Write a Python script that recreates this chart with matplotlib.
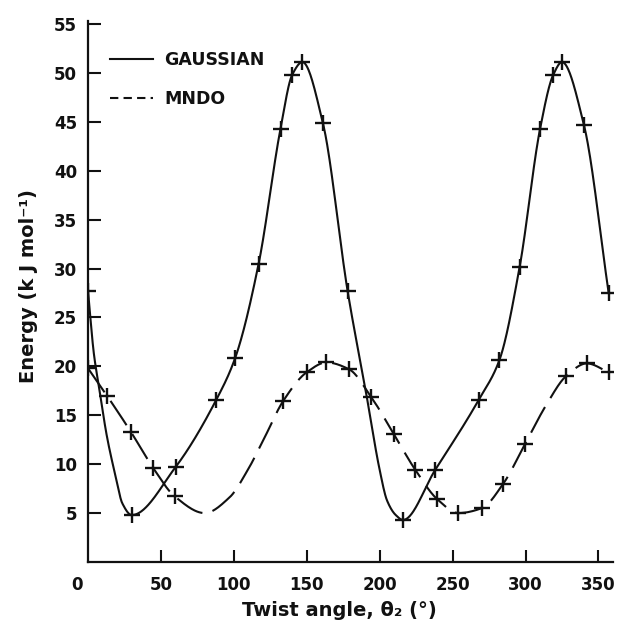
import numpy as np
import matplotlib
matplotlib.use("Agg")
import matplotlib.pyplot as plt
from matplotlib.lines import Line2D
from matplotlib.transforms import ScaledTranslation

INK = "#111111"

# Gaussian: computed points (marked "+") and a few unmarked points
gauss_x = [0, 30, 60, 88, 101, 117, 132, 140, 147, 161, 178,
           216, 238, 268, 282, 296, 310, 319, 325, 340, 357]
gauss_e = [27.7, 4.8, 9.7, 16.6, 20.9, 30.5, 44.3, 49.8, 51.1, 44.9, 27.7,
           4.3, 9.4, 16.6, 20.6, 30.2, 44.3, 49.8, 51.1, 44.7, 27.5]
gauss_curve_x = [4, 7.5, 13, 19, 23.5, 191, 200, 205, 211]
gauss_curve_e = [21.3, 17.9, 12.8, 8.7, 6.0, 17.0, 9.4, 6.3, 4.8]

# MNDO
mndo_x = [0, 13, 29.4, 44.7, 59.5, 134, 150, 163.5, 179, 194, 209.6,
          224.5, 239.6, 254, 270, 284.7, 299.8, 327.8, 342, 357]
mndo_e = [19.8, 17.0, 13.3, 9.6, 6.7, 16.5, 19.4, 20.4, 19.7, 16.9, 13.1,
          9.4, 6.4, 5.0, 5.5, 8.0, 12.1, 19.0, 20.3, 19.4]
mndo_curve_x = [80, 97, 109.5, 120, 314]
mndo_curve_e = [5.0, 6.6, 9.4, 12.4, 16.0]

x_ticks = [0, 50, 100, 150, 200, 250, 300, 350]
y_ticks = [5, 10, 15, 20, 25, 30, 35, 40, 45, 50, 55]


def pchip(x, y, xs):
    # monotone piecewise cubic (Fritsch-Carlson), enough for a hand-drawn look
    x = np.asarray(x, float)
    y = np.asarray(y, float)
    h = np.diff(x)
    d = np.diff(y) / h
    m = np.zeros_like(y)
    for k in range(1, len(x) - 1):
        if d[k - 1] * d[k] > 0:
            w1 = 2 * h[k] + h[k - 1]
            w2 = h[k] + 2 * h[k - 1]
            m[k] = (w1 + w2) / (w1 / d[k - 1] + w2 / d[k])
    m[0], m[-1] = d[0], d[-1]
    i = np.clip(np.searchsorted(x, xs) - 1, 0, len(h) - 1)
    t = (xs - x[i]) / h[i]
    return ((2 * t**3 - 3 * t**2 + 1) * y[i] + (t**3 - 2 * t**2 + t) * h[i] * m[i]
            + (-2 * t**3 + 3 * t**2) * y[i + 1] + (t**3 - t**2) * h[i] * m[i + 1])


def merged(xa, ya, xb, yb):
    pts = sorted(zip(list(xa) + list(xb), list(ya) + list(yb)))
    return [p[0] for p in pts], [p[1] for p in pts]


plt.rcParams.update({
    "font.family": ["DejaVu Sans"],
    "font.weight": "bold",
    "font.size": 12,
    "text.color": INK,
})

fig = plt.figure(figsize=(6.23, 6.25), dpi=100)
ax = fig.add_axes([0.1413, 0.1008, 0.8427, 0.8656])

gx, ge = merged(gauss_x, gauss_e, gauss_curve_x, gauss_curve_e)
xs = np.linspace(gx[0], gx[-1], 900)
ax.plot(xs, pchip(gx, ge, xs), color=INK, lw=1.5, solid_capstyle="round")
ax.plot(gauss_x, gauss_e, ls="none", marker="+", ms=11, mew=1.7, color=INK)

mx, me = merged(mndo_x, mndo_e, mndo_curve_x, mndo_curve_e)
xs = np.linspace(mx[0], mx[-1], 900)
ax.plot(xs, pchip(mx, me, xs), color=INK, lw=1.5, linestyle=(0, (14, 5)))
ax.plot(mndo_x, mndo_e, ls="none", marker="+", ms=11, mew=1.7, color=INK)

ax.set_xlim(0, 360)
ax.set_ylim(0, 55.3)
ax.set_xticks(x_ticks)
ax.set_yticks(y_ticks)
ax.tick_params(direction="in", length=9, width=1.5, colors=INK, labelsize=12)
ax.tick_params(axis="x", pad=10)
ax.tick_params(axis="y", pad=8)
for lab in ax.get_xticklabels() + ax.get_yticklabels():
    lab.set_fontweight("bold")
# "0" sits left of the spine in the original
first = ax.get_xticklabels()[0]
first.set_transform(first.get_transform() + ScaledTranslation(-0.11, 0, fig.dpi_scale_trans))
ax.xaxis.get_major_ticks()[0].tick1line.set_visible(False)

for s in ("top", "right"):
    ax.spines[s].set_visible(False)
for s in ("left", "bottom"):
    ax.spines[s].set_linewidth(1.6)
    ax.spines[s].set_color(INK)

handles = [Line2D([], [], color=INK, lw=1.5),
           Line2D([], [], color=INK, lw=1.5, dashes=(4, 2.5))]
ax.legend(handles, ["GAUSSIAN", "MNDO"], loc="upper left",
          bbox_to_anchor=(0.042, 0.945), frameon=False, borderpad=0,
          borderaxespad=0, handlelength=2.5, handletextpad=0.6,
          labelspacing=1.2, prop={"weight": "bold", "size": 12.5})

fig.text(0.544, 0.024, "Twist angle, θ₂ (°)", ha="center", va="center",
         fontsize=14, fontweight="bold")
fig.text(0.045, 0.542, "Energy (k J mol⁻¹)", ha="center", va="center",
         rotation=90, fontsize=14, fontweight="bold")

fig.savefig("out.png", dpi=100, facecolor="white")
